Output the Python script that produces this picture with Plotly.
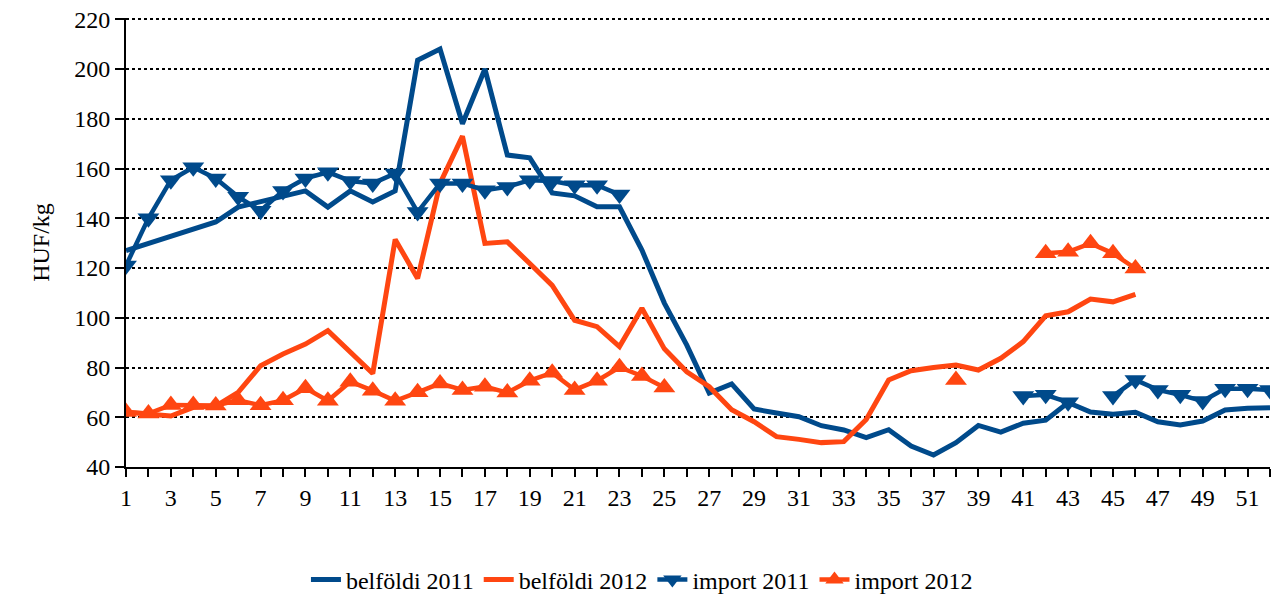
import plotly.graph_objects as go

weeks = list(range(1, 53))
tick_labels = [str(w) if w % 2 == 1 else "" for w in weeks]

belfoldi_2011 = [127, 130, 133, 136, 138.5, 144.5, 146.5, 149, 151, 144.5,
                 151, 146.5, 151, 203.5, 208, 178, 200, 165.4, 164.3, 150.2,
                 149, 144.6, 144.6, 127.2, 105.9, 89, 69.7, 73.4, 63.3, 61.7,
                 60.2, 56.6, 54.9, 51.8, 55, 48.4, 44.8, 49.8, 56.7, 54,
                 57.6, 58.8, 65.9, 62.1, 61.2, 62, 58.2, 56.9, 58.5, 62.9,
                 63.6, 63.8]

belfoldi_2012 = [62, 61.5, 60.5, 64, 64.5, 70, 80.7, 85.4, 89.4, 94.8,
                 86.4, 77.6, 131.5, 115.8, 154, 173, 129.9, 130.5, 121.8, 113,
                 99, 96.4, 88.4, 103.8, 87.5, 78.3, 72.3, 63, 58.2, 52.2,
                 51.1, 49.8, 50.2, 59.1, 75, 78.7, 80, 81, 79, 83.7,
                 90.4, 100.8, 102.4, 107.5, 106.4, 109.4,
                 None, None, None, None, None, None]

import_2011 = [121, 140, 155.3, 160.5, 156, 148.6, 143, 151, 156, 158.5,
               155, 154, 158, 142.5, 154, 154, 151.3, 152.6, 155.3, 155,
               153.3, 153.3, 149.5,
               None, None, None, None, None, None, None, None, None, None,
               None, None, None, None, None, None, None,
               68.5, 69, 66, None, 68.5, 75, 71, 69, 66.5, 71.5, 71.5, 71]

import_2012 = [62.1, 61.5, 64.9, 64.9, 64.7, 66.8, 64.8, 66.8, 71.7, 66.6,
               74.3, 70.7, 66.6, 70, 73.6, 71, 72.3, 69.9, 74.7, 77.9,
               71, 74.7, 80.1, 76.6, 72,
               None, None, None, None, None, None, None, None, None, None,
               None, None, 75, None, None, None,
               125.9, 126.5, 129.9, 125.9, 119.8,
               None, None, None, None, None, None]

BLUE = "#004A8B"
ORANGE = "#FF4611"
FONT = "Liberation Serif"
FS = 24

fig = go.Figure()
fig.add_trace(go.Scatter(x=weeks, y=belfoldi_2011, name="belföldi 2011", mode="lines",
                         line=dict(color=BLUE, width=5)))
fig.add_trace(go.Scatter(x=weeks, y=belfoldi_2012, name="belföldi 2012", mode="lines",
                         line=dict(color=ORANGE, width=5)))
fig.add_trace(go.Scatter(x=weeks, y=import_2011, name="import 2011", mode="lines+markers",
                         line=dict(color=BLUE, width=4.5),
                         marker=dict(symbol="triangle-down", size=19, color=BLUE),
                         connectgaps=False))
fig.add_trace(go.Scatter(x=weeks, y=import_2012, name="import 2012", mode="lines+markers",
                         line=dict(color=ORANGE, width=4.5),
                         marker=dict(symbol="triangle-up", size=19, color=ORANGE),
                         connectgaps=False))

fig.update_layout(
    width=1273, height=589,
    margin=dict(l=118, r=11, t=10, b=130),
    paper_bgcolor="white", plot_bgcolor="white",
    font=dict(family=FONT, size=FS, color="black"),
    showlegend=True,
    legend=dict(orientation="h", xref="container", yref="container",
                x=0.498, xanchor="center", y=0.029, yanchor="middle",
                font=dict(family=FONT, size=FS, color="black"),
                itemwidth=30, tracegroupgap=0),
)
fig.update_xaxes(
    range=[1, 52], tickmode="array", tickvals=weeks, ticktext=tick_labels,
    showgrid=False, zeroline=False, automargin=False,
    showline=True, linecolor="black", linewidth=2,
    ticks="outside", ticklen=8, tickwidth=2, tickcolor="black",
    tickfont=dict(family=FONT, size=FS, color="black"),
    tickangle=0,
)
fig.update_yaxes(
    range=[40, 220.5], tickmode="linear", tick0=40, dtick=20,
    showgrid=True, gridcolor="black", gridwidth=2, griddash="3px,3px",
    zeroline=False, ticklabeloverflow="allow", automargin=False,
    showline=True, linecolor="black", linewidth=2,
    ticks="outside", ticklen=9, tickwidth=2, tickcolor="black",
    tickfont=dict(family=FONT, size=FS, color="black"),
    title=dict(text="HUF/kg", font=dict(family=FONT, size=FS, color="black"), standoff=18),
)

fig.write_html("out.html")
